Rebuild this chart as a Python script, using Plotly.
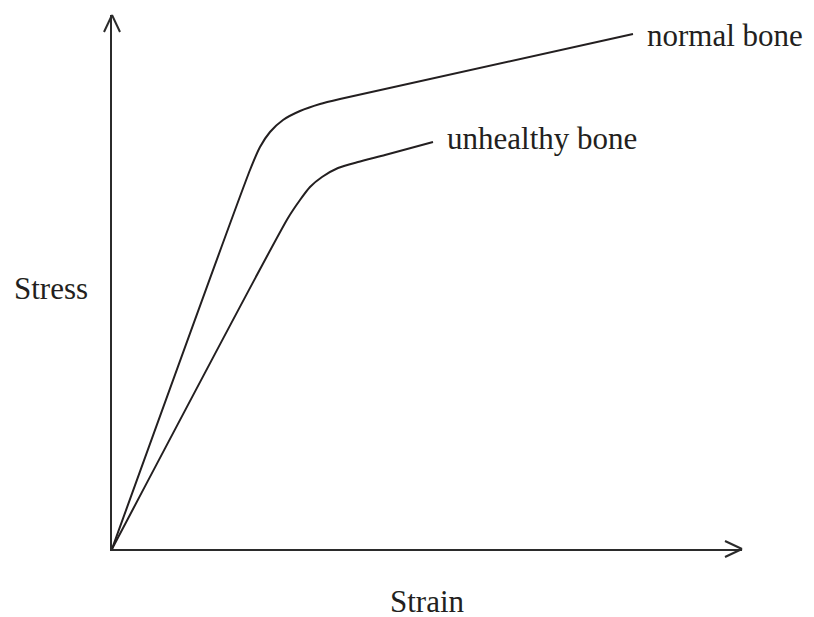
import plotly.graph_objects as go

# Data (strain, stress) in arbitrary units
normal_strain = [0, 138, 148, 158, 171, 188, 208, 228, 521]
normal_stress = [0, 379, 402, 417, 429, 438, 445, 450, 515]
unhealthy_strain = [0, 176, 188, 198, 210, 226, 246, 273, 321]
unhealthy_stress = [0, 331, 349, 362, 372, 381, 387, 394, 407]
labels = ["normal bone", "unhealthy bone"]
x_title = "Strain"
y_title = "Stress"

FONT = "Liberation Serif, Times New Roman, serif"
INK = "#231f20"

fig = go.Figure()
fig.add_trace(go.Scatter(x=normal_strain, y=normal_stress, mode="lines",
                         line=dict(color=INK, width=2, shape="spline", smoothing=0.6),
                         hoverinfo="skip", showlegend=False))
fig.add_trace(go.Scatter(x=unhealthy_strain, y=unhealthy_stress, mode="lines",
                         line=dict(color=INK, width=2, shape="spline", smoothing=0.6),
                         hoverinfo="skip", showlegend=False))

# curve labels at the end of each curve
fig.add_annotation(x=normal_strain[-1], y=normal_stress[-1], text=labels[0],
                   showarrow=False, xanchor="left", yanchor="middle", xshift=12, yshift=-1,
                   font=dict(family=FONT, size=31, color=INK))
fig.add_annotation(x=unhealthy_strain[-1], y=unhealthy_stress[-1], text=labels[1],
                   showarrow=False, xanchor="left", yanchor="middle", xshift=12, yshift=4,
                   font=dict(family=FONT, size=31, color=INK))

# axis titles
fig.add_annotation(xref="paper", yref="paper", x=0.5, y=0, text=x_title,
                   showarrow=False, xanchor="center", yanchor="middle", yshift=-52,
                   height=30, valign="middle", borderpad=0,
                   font=dict(family=FONT, size=31, color=INK))
fig.add_annotation(xref="paper", yref="paper", x=0, y=0.487, text=y_title,
                   showarrow=False, xanchor="left", yanchor="middle", xshift=-100,
                   font=dict(family=FONT, size=31, color=INK))

# arrow heads (open chevrons)
AX = "#2b2b2b"
for dx in (-8, 8):
    fig.add_shape(type="line", xref="paper", yref="paper", xsizemode="pixel", ysizemode="pixel",
                  xanchor=0, yanchor=1, x0=dx, y0=-17, x1=0, y1=0,
                  line=dict(color=AX, width=2))
for dy in (-8, 8):
    fig.add_shape(type="line", xref="paper", yref="paper", xsizemode="pixel", ysizemode="pixel",
                  xanchor=1, yanchor=0, x0=-17, y0=dy, x1=0, y1=0,
                  line=dict(color=AX, width=2))

fig.update_xaxes(range=[0, 630], showline=True, linecolor=AX, linewidth=2,
                 showgrid=False, zeroline=False, showticklabels=False, ticks="")
fig.update_yaxes(range=[0, 534], showline=True, linecolor=AX, linewidth=2,
                 showgrid=False, zeroline=False, showticklabels=False, ticks="")
# page body adds an 8px offset, so the figure is 8px smaller and margins shifted
fig.update_layout(width=806, height=609, margin=dict(l=104, r=72, t=7, b=68),
                  plot_bgcolor="white", paper_bgcolor="white")

fig.write_html("out.html")
